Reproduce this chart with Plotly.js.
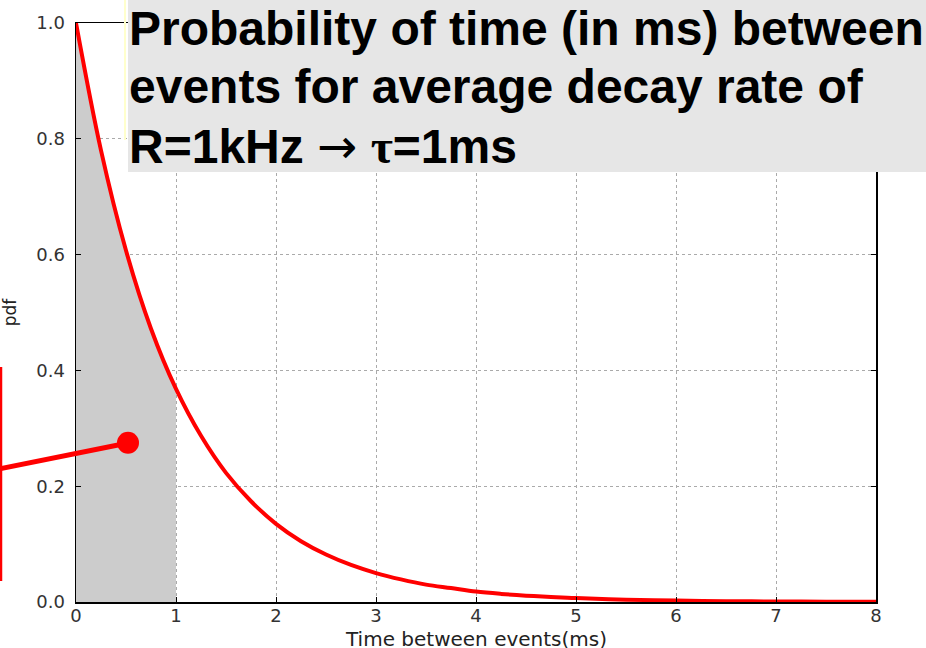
<!DOCTYPE html>
<html><head><meta charset="utf-8">
<script src="https://cdn.plot.ly/plotly-3.0.1.min.js"></script>
<style>body{margin:0;padding:0;background:#fff}#c{width:926px;height:648px}</style>
</head><body><div id="c"></div>
<script>
// Values
const timeMs = [0,0.25,0.5,0.75,1,1.25,1.5,1.75,2,2.25,2.5,2.75,3,3.25,3.5,3.75,4,4.25,4.5,4.75,5,5.5,6,6.5,7,7.5,8];
const pdfVals = [1.0,0.78,0.607,0.472,0.368,0.287,0.223,0.174,0.135,0.105,0.082,0.064,0.05,0.039,0.030,0.024,0.018,0.014,0.011,0.0087,0.0067,0.0041,0.0025,0.0015,0.0009,0.0006,0.0003];
const shadeEnd = 1;
const xTicks = [0,1,2,3,4,5,6,7,8];
const yTicks = [0,0.2,0.4,0.6,0.8,1.0];
const yTickText = ['0.0','0.2','0.4','0.6','0.8','1.0'];
const xTitle = 'Time between events(ms)';
const yTitle = 'pdf';
const titleLines = [
  'Probability of time (in ms) between',
  'events for average decay rate of',
  'R=1kHz <span style="font-family:DejaVu Sans;font-weight:normal">\u2192</span> <span style="font-family:Liberation Serif">\u03c4</span>=1ms'
];
const markerPoint = {x:[0.52], y:[0.275]};

const shadeX = timeMs.filter(t => t <= shadeEnd);
const shadeY = pdfVals.slice(0, shadeX.length);

const traces = [
  {x: shadeX, y: shadeY, type:'scatter', mode:'lines', fill:'tozeroy', fillcolor:'#cccccc',
   line:{width:0, color:'rgba(0,0,0,0)', shape:'spline'}, hoverinfo:'skip', showlegend:false},
  {x: timeMs, y: pdfVals, type:'scatter', mode:'lines', line:{color:'#ff0000', width:4, shape:'spline'}, showlegend:false},
  {x: markerPoint.x, y: markerPoint.y, type:'scatter', mode:'markers', marker:{color:'#ff0000', size:22}, showlegend:false, cliponaxis:false}
];

const tickFont = {family:'DejaVu Sans', size:18, color:'#333'};
const pyToPaper = py => (602 - py) / 579;
const pxToPaper = px => (px - 76) / 800;
const layout = {
  width:926, height:648,
  margin:{l:76, r:50, t:23, b:46},
  paper_bgcolor:'#fff', plot_bgcolor:'#fff',
  showlegend:false,
  xaxis:{range:[0,8], tickvals:xTicks, ticktext:xTicks.map(String), ticks:'inside', ticklen:5, tickcolor:'#000',
    showline:true, linecolor:'#000', linewidth:1.5, mirror:'ticks', zeroline:false, ticklabelstandoff:-3,
    showgrid:true, gridcolor:'#aaa', griddash:'dot', gridwidth:1, tickfont:tickFont},
  yaxis:{range:[0,1], tickvals:yTicks, ticktext:yTickText, ticks:'inside', ticklen:5, tickcolor:'#000',
    showline:true, linecolor:'#000', linewidth:1.5, mirror:'ticks', zeroline:false, ticklabelstandoff:6,
    showgrid:true, gridcolor:'#aaa', griddash:'dot', gridwidth:1, tickfont:tickFont,
    title:{text:yTitle, font:{family:'DejaVu Sans', size:17, color:'#222'}, standoff:16}},
  shapes:[
    {type:'rect', xref:'paper', yref:'paper', x0:pxToPaper(128), x1:1.07, y0:pyToPaper(172), y1:1.05,
     fillcolor:'#e6e6e6', line:{width:0}, layer:'above'},
    {type:'line', xref:'paper', yref:'paper', x0:pxToPaper(125), x1:pxToPaper(125), y0:pyToPaper(140), y1:1.05,
     line:{color:'#ffffcc', width:2}, layer:'above'},
    {type:'line', xref:'paper', yref:'paper', x0:pxToPaper(-1), x1:pxToPaper(128), y0:pyToPaper(469), y1:pyToPaper(443),
     line:{color:'#ff0000', width:5}, layer:'above'},
    {type:'line', xref:'paper', yref:'paper', x0:pxToPaper(1), x1:pxToPaper(1), y0:pyToPaper(581), y1:pyToPaper(367),
     line:{color:'#ff0000', width:2.5}, layer:'above'}
  ],
  annotations: titleLines.map((t, i) => ({
    xref:'paper', yref:'paper', x:pxToPaper(127), y:pyToPaper(0 + 58*i), xanchor:'left', yanchor:'top', align:'left',
    showarrow:false, text:t, font:{family:'Liberation Sans, Arial, sans-serif', size:48, color:'#000', weight:'bold'}
  })).concat([
    {xref:'paper', yref:'paper', x:0.5, y:pyToPaper(653), xanchor:'center', yanchor:'bottom', showarrow:false,
     text:xTitle, font:{family:'DejaVu Sans', size:20, color:'#222'}}
  ])
};
Plotly.newPlot('c', traces, layout, {staticPlot:true});
</script>
</body></html>
